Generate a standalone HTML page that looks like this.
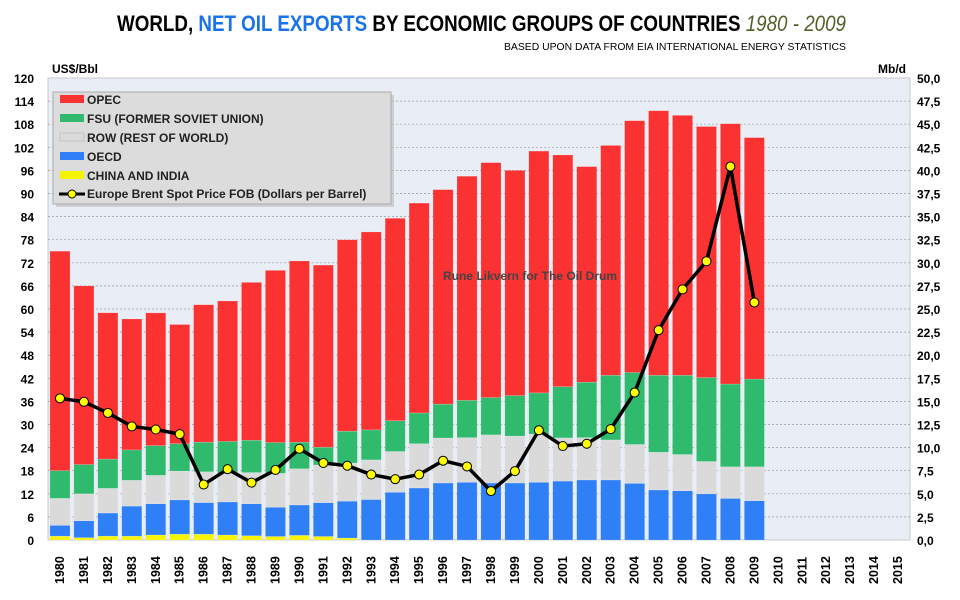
<!DOCTYPE html>
<html><head><meta charset="utf-8"><style>
body{margin:0;background:#fff;}
svg{display:block;font-family:"Liberation Sans",sans-serif;}
</style></head><body>
<svg id="chart" width="960" height="600">
<text x="117" y="31" font-size="22" font-weight="bold" textLength="729" lengthAdjust="spacingAndGlyphs">WORLD, <tspan fill="#1a73e8">NET OIL EXPORTS</tspan> BY ECONOMIC GROUPS OF COUNTRIES <tspan fill="#4f6228" font-style="italic" font-weight="normal">1980 - 2009</tspan></text>
<text x="846" y="50" font-size="10" text-anchor="end" textLength="342" lengthAdjust="spacingAndGlyphs">BASED UPON DATA FROM EIA INTERNATIONAL ENERGY STATISTICS</text>
<text x="52" y="73" font-size="12" font-weight="bold">US$/Bbl</text>
<text x="906" y="73" font-size="12" font-weight="bold" text-anchor="end">Mb/d</text>
<rect x="48" y="78" width="862" height="462" fill="#e9eef6" stroke="#c8c8c8"/>
<g id="grid"></g><g id="bars"></g><g id="line"></g><g id="axes"></g>
<text x="530" y="280" font-size="12" font-weight="bold" fill="#444" text-anchor="middle">Rune Likvern for The Oil Drum</text>
<g>
<rect x="56" y="95" width="338" height="112" fill="#bbb" opacity="0.6"/>
<rect x="53" y="92" width="338" height="112" fill="#dcdcdc" stroke="#aaa"/>
<g font-size="12" font-weight="bold" fill="#222">
<rect x="60" y="95" width="24" height="8" fill="#fa3232"/><text x="87" y="104">OPEC</text>
<rect x="60" y="114" width="24" height="8" fill="#2fba6e"/><text x="87" y="123">FSU (FORMER SOVIET UNION)</text>
<rect x="60" y="133" width="24" height="8" fill="#dadada" stroke="#aaa" stroke-width="0.5"/><text x="87" y="142">ROW (REST OF WORLD)</text>
<rect x="60" y="152" width="24" height="8" fill="#2f7ff7"/><text x="87" y="161">OECD</text>
<rect x="60" y="171" width="24" height="8" fill="#f5f500"/><text x="87" y="180">CHINA AND INDIA</text>
<line x1="59" y1="194" x2="85" y2="194" stroke="#000" stroke-width="3"/><circle cx="72" cy="194" r="4" fill="#ff0" stroke="#000"/><text x="87" y="198">Europe Brent Spot Price FOB (Dollars per Barrel)</text>
</g></g>
</svg>
<script>
const years=[1980,1981,1982,1983,1984,1985,1986,1987,1988,1989,1990,1991,1992,1993,1994,1995,1996,1997,1998,1999,2000,2001,2002,2003,2004,2005,2006,2007,2008,2009,2010,2011,2012,2013,2014,2015];
// stacked series in Mb/d (left axis = Mb/d * 2.4)
const chinaIndia=[0.42,0.25,0.42,0.42,0.54,0.63,0.63,0.54,0.46,0.38,0.5,0.38,0.21,0,0,0,0,0,0,0,0,0,0,0,0,0,0,0,0,0];
const oecd=[1.17,1.83,2.5,3.25,3.38,3.71,3.42,3.58,3.46,3.17,3.29,3.66,4.0,4.38,5.17,5.63,6.17,6.25,6.17,6.17,6.25,6.38,6.5,6.5,6.13,5.42,5.33,5.0,4.5,4.25];
const row=[2.92,2.92,2.67,2.79,3.08,3.12,3.33,3.13,3.38,3.67,3.92,4.08,4.12,4.29,4.41,4.79,4.87,4.83,5.21,5.08,5.21,4.67,4.58,4.33,4.21,4.08,3.92,3.5,3.42,3.67];
const fsu=[3.0,3.17,3.17,3.29,3.21,2.96,3.21,3.42,3.5,3.33,2.87,1.92,3.45,3.25,3.33,3.33,3.67,4.04,4.04,4.38,4.46,5.54,6.0,7.0,7.79,8.33,8.58,9.08,8.96,9.5];
const opec=[23.75,19.33,15.83,14.17,14.37,12.9,14.87,15.2,17.08,18.63,19.62,19.71,20.71,21.42,21.91,22.71,23.21,24.25,25.42,24.37,26.17,25.08,23.33,24.87,27.25,28.63,28.13,27.17,28.17,26.13];
const brent=[36.8,35.9,33.0,29.5,28.7,27.5,14.4,18.4,14.9,18.2,23.7,20.0,19.3,17.0,15.8,17.0,20.6,19.1,12.7,17.9,28.5,24.4,25.0,28.8,38.3,54.5,65.1,72.4,97.0,61.7];
const leftTicks=[0,6,12,18,24,30,36,42,48,54,60,66,72,78,84,90,96,102,108,114,120];
const rightTicks=["0,0","2,5","5,0","7,5","10,0","12,5","15,0","17,5","20,0","22,5","25,0","27,5","30,0","32,5","35,0","37,5","40,0","42,5","45,0","47,5","50,0"];
const NS="http://www.w3.org/2000/svg";
const X0=48,X1=910,Y0=540,Y1=78;
const step=(X1-X0)/years.length;
const xc=i=>X0+step*(i+0.5);
const yL=v=>Y0-(v/120)*(Y0-Y1);
const yR=v=>yL(v*2.4);
function mk(tag,attrs,parent){const e=document.createElementNS(NS,tag);for(const k in attrs)e.setAttribute(k,attrs[k]);parent.appendChild(e);return e;}
const grid=document.getElementById('grid'),bars=document.getElementById('bars'),line=document.getElementById('line'),axes=document.getElementById('axes');
leftTicks.forEach((t,i)=>{
  const y=yL(t);
  if(t>0&&t<120){const g=mk('line',{x1:X0,x2:X1,y1:y,y2:y,stroke:'#999','stroke-dasharray':'2,2','stroke-width':0.7},grid);
  
  }
  const l=mk('text',{x:34,y:y+5,'font-size':12,'font-weight':'bold','text-anchor':'end'},axes);l.textContent=t;
  
  
  const r=mk('text',{x:917,y:y+5,'font-size':12,'font-weight':'bold'},axes);r.textContent=rightTicks[i];
  
  
});
years.forEach((yr,i)=>{
  const t=mk('text',{transform:`translate(${xc(i)+4},584) rotate(-90)`,'font-size':12.5,'font-weight':'bold'},axes);t.textContent=yr;
  
  
});
const series=[[chinaIndia,'#f5f500','bar-china-india'],[oecd,'#2f7ff7','bar-oecd'],[row,'#dadada','bar-row'],[fsu,'#2fba6e','bar-fsu'],[opec,'#fa3232','bar-opec']];
const bw=step*0.84;
opec.forEach((_,i)=>{
  let base=0;
  series.forEach(([arr,col,name])=>{
    const v=arr[i];if(v<=0)return;
    const r=mk('rect',{x:xc(i)-bw/2,y:yR(base+v),width:bw,height:yR(base)-yR(base+v),fill:col,stroke:'#fff','stroke-opacity':0.35,'stroke-width':0.5},bars);
    
    
    base+=v;
  });
});
const pl=mk('polyline',{points:brent.map((v,i)=>xc(i)+','+yL(v)).join(' '),fill:'none',stroke:'#000','stroke-width':3.5,'stroke-linejoin':'round'},line);


brent.forEach((v,i)=>{
  const c=mk('circle',{cx:xc(i),cy:yL(v),r:4.5,fill:'#ffff00',stroke:'#000','stroke-width':1},line);
  
  
});
</script>
</body></html>
